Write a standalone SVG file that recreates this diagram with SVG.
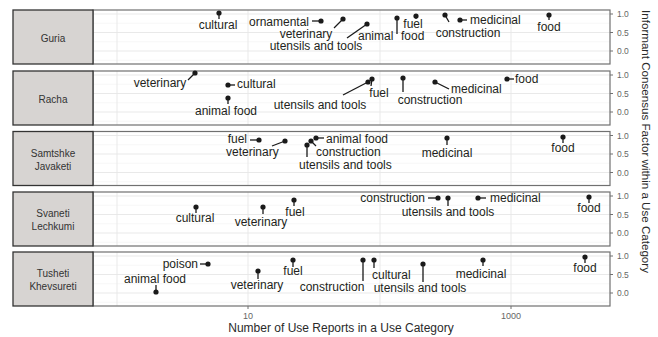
<svg xmlns="http://www.w3.org/2000/svg" width="658" height="337" viewBox="0 0 658 337">
<style>
text{font-family:"Liberation Sans",Arial,sans-serif;fill:#231f20}
.strip{fill:#d7d4d2;stroke:#333;stroke-width:1.3}
.stxt{font-size:10px;text-anchor:middle;fill:#333}
.panel{fill:none;stroke:#707070;stroke-width:1.2}
.grid{stroke:#e6e6e6;stroke-width:0.9}
.gridm{stroke:#f2f2f2;stroke-width:0.6}
.tick{stroke:#707070;stroke-width:1}
.tl{font-size:8.5px;fill:#666}
.lbl{font-size:12px}
.m{text-anchor:middle}
.e{text-anchor:end}
.seg{stroke:#1a1a1a;stroke-width:1.3;fill:none}
.dot{fill:#1a1a1a}
.title{font-size:12px;text-anchor:middle;fill:#2a2a2a}
</style>
<defs>
<g id="gridset">
<line class="gridm" x1="93" x2="610" y1="13.25" y2="13.25"/>
<line class="gridm" x1="93" x2="610" y1="31.75" y2="31.75"/>
<line class="gridm" x1="93" x2="610" y1="50.25" y2="50.25"/>
<line class="grid" x1="93" x2="610" y1="4" y2="4"/>
<line class="grid" x1="93" x2="610" y1="22.5" y2="22.5"/>
<line class="grid" x1="93" x2="610" y1="41" y2="41"/>
<line class="grid" x1="117" x2="117" y1="0" y2="54"/>
<line class="grid" x1="248" x2="248" y1="0" y2="54"/>
<line class="grid" x1="380" x2="380" y1="0" y2="54"/>
<line class="grid" x1="511" x2="511" y1="0" y2="54"/>
<rect class="panel" x="93" y="0" width="517" height="54"/>
<rect class="strip" x="13" y="0" width="80" height="54"/>
<line class="tick" x1="610" x2="613" y1="4" y2="4"/>
<line class="tick" x1="610" x2="613" y1="22.5" y2="22.5"/>
<line class="tick" x1="610" x2="613" y1="41" y2="41"/>
<text class="tl" x="617" y="7">1.0</text>
<text class="tl" x="617" y="25.5">0.5</text>
<text class="tl" x="617" y="44">0.0</text>
</g>
</defs>

<g id="panels">
<g id="panel-guria" transform="translate(0,10)"><use href="#gridset"/><text class="stxt" x="53" y="31.5">Guria</text></g>
<g id="panel-racha" transform="translate(0,71)"><use href="#gridset"/><text class="stxt" x="53" y="31.5">Racha</text></g>
<g id="panel-samtshke" transform="translate(0,131.5)"><use href="#gridset"/><text class="stxt" x="53" y="25">Samtshke</text><text class="stxt" x="53" y="38">Javaketi</text></g>
<g id="panel-svaneti" transform="translate(0,192)"><use href="#gridset"/><text class="stxt" x="53" y="24.5">Svaneti</text><text class="stxt" x="53" y="37.5">Lechkumi</text></g>
<g id="panel-tusheti" transform="translate(0,252)"><use href="#gridset"/><text class="stxt" x="53" y="25">Tusheti</text><text class="stxt" x="53" y="38">Khevsureti</text></g>
</g>

<g id="axes">
<line class="tick" x1="248" x2="248" y1="306" y2="309"/>
<line class="tick" x1="511" x2="511" y1="306" y2="309"/>
<text class="tl m" x="248" y="319" style="font-size:9px">10</text>
<text class="tl m" x="511" y="319" style="font-size:9px">1000</text>
<text class="title" x="341" y="332">Number of Use Reports in a Use Category</text>
<text class="title" style="font-size:11.6px" transform="translate(642,141.5) rotate(90)">Informant Consensus Factor within a Use Category</text>
</g>

<g id="connectors">
<!-- Guria -->
<line class="seg" x1="219" y1="13" x2="219" y2="19"/>
<line class="seg" x1="312" y1="21" x2="321" y2="21"/>
<line class="seg" x1="334" y1="28" x2="343" y2="19"/>
<line class="seg" x1="347" y1="38" x2="367" y2="24"/>
<line class="seg" x1="397" y1="18" x2="397" y2="34"/>
<line class="seg" x1="416" y1="16" x2="416" y2="19"/>
<line class="seg" x1="445" y1="15" x2="449" y2="22"/>
<line class="seg" x1="460" y1="20" x2="467" y2="20"/>
<line class="seg" x1="549" y1="15" x2="549" y2="20"/>
<!-- Racha -->
<line class="seg" x1="188" y1="80" x2="195" y2="73"/>
<line class="seg" x1="228" y1="85" x2="235" y2="85"/>
<line class="seg" x1="228" y1="98" x2="228" y2="104"/>
<line class="seg" x1="343" y1="95" x2="368" y2="82"/>
<line class="seg" x1="372" y1="79" x2="371" y2="86"/>
<line class="seg" x1="403" y1="78" x2="403" y2="92"/>
<line class="seg" x1="435" y1="82" x2="449" y2="89"/>
<line class="seg" x1="507" y1="79" x2="514" y2="79"/>
<!-- Samtshke -->
<line class="seg" x1="250" y1="140" x2="259" y2="140"/>
<line class="seg" x1="272" y1="146" x2="285" y2="141"/>
<line class="seg" x1="307" y1="145" x2="307" y2="157"/>
<line class="seg" x1="311" y1="141" x2="316" y2="146"/>
<line class="seg" x1="316" y1="138" x2="324" y2="138"/>
<line class="seg" x1="447" y1="138" x2="447" y2="145"/>
<line class="seg" x1="563" y1="137" x2="563" y2="143"/>
<!-- Svaneti -->
<line class="seg" x1="196" y1="207" x2="196" y2="213"/>
<line class="seg" x1="263" y1="207" x2="263" y2="214"/>
<line class="seg" x1="294" y1="200" x2="294" y2="206"/>
<line class="seg" x1="428" y1="198" x2="438" y2="198"/>
<line class="seg" x1="448" y1="198" x2="448" y2="206"/>
<line class="seg" x1="478" y1="198" x2="486" y2="198"/>
<line class="seg" x1="589" y1="197" x2="589" y2="203"/>
<!-- Tusheti -->
<line class="seg" x1="200" y1="264" x2="208" y2="264"/>
<line class="seg" x1="156" y1="292" x2="156" y2="285"/>
<line class="seg" x1="258" y1="271" x2="258" y2="279"/>
<line class="seg" x1="293" y1="260" x2="293" y2="267"/>
<line class="seg" x1="363" y1="260" x2="363" y2="281"/>
<line class="seg" x1="374" y1="260" x2="374" y2="268"/>
<line class="seg" x1="423" y1="264" x2="423" y2="282"/>
<line class="seg" x1="483" y1="260" x2="483" y2="266"/>
<line class="seg" x1="585" y1="257" x2="585" y2="263"/>
</g>

<g id="guria">
<g id="guria-cultural"><circle class="dot" cx="219" cy="13" r="2.6"/><text class="lbl m" x="218" y="29">cultural</text></g>
<g id="guria-ornamental"><circle class="dot" cx="321" cy="21" r="2.6"/><text class="lbl m" x="279" y="25.5">ornamental</text></g>
<g id="guria-veterinary"><circle class="dot" cx="343" cy="19" r="2.6"/><text class="lbl m" x="306" y="37.5">veterinary</text></g>
<g id="guria-utensils"><circle class="dot" cx="367" cy="24" r="2.6"/><text class="lbl m" x="316" y="50">utensils and tools</text></g>
<g id="guria-animalfood"><circle class="dot" cx="397" cy="18" r="2.6"/><text class="lbl" y="40"><tspan x="358">animal</tspan> <tspan x="401">food</tspan></text></g>
<g id="guria-fuel"><circle class="dot" cx="416" cy="16" r="2.6"/><text class="lbl m" x="413" y="27.5">fuel</text></g>
<g id="guria-construction"><circle class="dot" cx="445" cy="15" r="2.6"/><text class="lbl m" x="468" y="37">construction</text></g>
<g id="guria-medicinal"><circle class="dot" cx="460" cy="20" r="2.6"/><text class="lbl" x="470" y="24">medicinal</text></g>
<g id="guria-food"><circle class="dot" cx="549" cy="15" r="2.6"/><text class="lbl m" x="549" y="31">food</text></g>
</g>

<g id="racha">
<g id="racha-veterinary"><circle class="dot" cx="195" cy="73" r="2.6"/><text class="lbl m" x="160" y="87">veterinary</text></g>
<g id="racha-cultural"><circle class="dot" cx="228" cy="85" r="2.6"/><text class="lbl" x="237" y="88">cultural</text></g>
<g id="racha-animalfood"><circle class="dot" cx="228" cy="98" r="2.6"/><text class="lbl m" x="226" y="115">animal food</text></g>
<g id="racha-utensils"><circle class="dot" cx="368" cy="82" r="2.6"/><text class="lbl m" x="320" y="109">utensils and tools</text></g>
<g id="racha-fuel"><circle class="dot" cx="372" cy="79" r="2.6"/><text class="lbl m" x="379" y="97">fuel</text></g>
<g id="racha-construction"><circle class="dot" cx="403" cy="78" r="2.6"/><text class="lbl m" x="430" y="104">construction</text></g>
<g id="racha-medicinal"><circle class="dot" cx="435" cy="82" r="2.6"/><text class="lbl" x="451" y="93">medicinal</text></g>
<g id="racha-food"><circle class="dot" cx="507" cy="79" r="2.6"/><text class="lbl" x="515" y="83">food</text></g>
</g>

<g id="samtshke">
<g id="samtshke-fuel"><circle class="dot" cx="259" cy="140" r="2.6"/><text class="lbl e" x="247" y="143">fuel</text></g>
<g id="samtshke-veterinary"><circle class="dot" cx="285" cy="141" r="2.6"/><text class="lbl" x="226" y="156">veterinary</text></g>
<g id="samtshke-utensils"><circle class="dot" cx="307" cy="145" r="2.6"/><text class="lbl" x="299" y="169">utensils and tools</text></g>
<g id="samtshke-construction"><circle class="dot" cx="311" cy="141" r="2.6"/><text class="lbl" x="316" y="156">construction</text></g>
<g id="samtshke-animalfood"><circle class="dot" cx="316" cy="138" r="2.6"/><text class="lbl" x="326" y="143">animal food</text></g>
<g id="samtshke-medicinal"><circle class="dot" cx="447" cy="138" r="2.6"/><text class="lbl m" x="447" y="157">medicinal</text></g>
<g id="samtshke-food"><circle class="dot" cx="563" cy="137" r="2.6"/><text class="lbl m" x="563" y="152">food</text></g>
</g>

<g id="svaneti">
<g id="svaneti-cultural"><circle class="dot" cx="196" cy="207" r="2.6"/><text class="lbl m" x="195" y="222">cultural</text></g>
<g id="svaneti-veterinary"><circle class="dot" cx="263" cy="207" r="2.6"/><text class="lbl m" x="261" y="226">veterinary</text></g>
<g id="svaneti-fuel"><circle class="dot" cx="294" cy="200" r="2.6"/><text class="lbl m" x="295" y="216">fuel</text></g>
<g id="svaneti-construction"><circle class="dot" cx="438" cy="198" r="2.6"/><text class="lbl e" x="425" y="202">construction</text></g>
<g id="svaneti-utensils"><circle class="dot" cx="448" cy="198" r="2.6"/><text class="lbl m" x="448" y="216">utensils and tools</text></g>
<g id="svaneti-medicinal"><circle class="dot" cx="478" cy="198" r="2.6"/><text class="lbl" x="490" y="202">medicinal</text></g>
<g id="svaneti-food"><circle class="dot" cx="589" cy="197" r="2.6"/><text class="lbl m" x="589" y="212">food</text></g>
</g>

<g id="tusheti">
<g id="tusheti-poison"><circle class="dot" cx="208" cy="264" r="2.6"/><text class="lbl e" x="198" y="268">poison</text></g>
<g id="tusheti-animalfood"><circle class="dot" cx="156" cy="292" r="2.6"/><text class="lbl m" x="155" y="283">animal food</text></g>
<g id="tusheti-veterinary"><circle class="dot" cx="258" cy="271" r="2.6"/><text class="lbl m" x="257" y="289">veterinary</text></g>
<g id="tusheti-fuel"><circle class="dot" cx="293" cy="260" r="2.6"/><text class="lbl m" x="293" y="275">fuel</text></g>
<g id="tusheti-construction"><circle class="dot" cx="363" cy="260" r="2.6"/><text class="lbl m" x="332" y="291">construction</text></g>
<g id="tusheti-cultural"><circle class="dot" cx="374" cy="260" r="2.6"/><text class="lbl" x="372" y="279">cultural</text></g>
<g id="tusheti-utensils"><circle class="dot" cx="423" cy="264" r="2.6"/><text class="lbl m" x="420" y="292">utensils and tools</text></g>
<g id="tusheti-medicinal"><circle class="dot" cx="483" cy="260" r="2.6"/><text class="lbl m" x="481" y="278">medicinal</text></g>
<g id="tusheti-food"><circle class="dot" cx="585" cy="257" r="2.6"/><text class="lbl m" x="585" y="272">food</text></g>
</g>
</svg>
